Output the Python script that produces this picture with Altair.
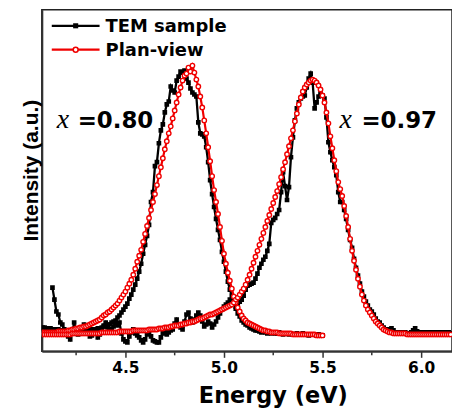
import altair as alt
import numpy as np
import pandas as pd

# ---- data (intensity in arbitrary units) ----
STEP = 0.01

TEM_080_START = 4.08
TEM_080 = [24, 24, 23, 23, 23, 22, 22, 22,
           22, 21, 21, 21, 21, 21, 20, 21, 20, 21,
           20, 21, 21, 21, 21, 22, 21, 22, 22, 22,
           23, 23, 24, 25, 25, 27, 27, 29, 30, 31,
           34, 36, 39, 42, 45, 48, 53, 57, 62, 67,
           73, 80, 88, 98, 107, 116, 127, 150, 160, 186,
           190, 209, 222, 228, 240, 248, 251, 266, 262, 260,
           272, 276, 281, 280, 282, 274, 270, 264, 260, 258,
           256, 230, 219, 218, 216, 205, 190, 172, 158, 145,
           133, 122, 112, 100, 90, 80, 70, 62, 56, 49,
           43, 38, 35, 31, 29, 27, 26, 24, 23, 22,
           21, 21, 20, 19, 20, 19, 18, 19, 18, 19,
           18, 18, 19, 18, 17, 18, 18, 17, 18, 17,
           17, 18, 17, 17, 18, 17, 17, 16, 17, 17,
           17, 16, 17, 16, 16]

PLAN_080_START = 4.08
PLAN_080 = [19, 19, 19, 19, 19, 19, 19, 19,
            20, 20, 20, 20, 20, 21, 21, 22, 22, 23,
            23, 24, 24, 25, 25, 26, 27, 28, 29, 30,
            31, 32, 34, 36, 37, 39, 40, 42, 44, 46,
            48, 51, 54, 57, 60, 64, 68, 72, 77, 83,
            90, 96, 102, 110, 118, 126, 134, 142, 150, 158,
            167, 176, 185, 194, 203, 211, 219, 226, 234, 242,
            250, 258, 265, 272, 277, 279, 285, 281, 287, 280,
            273, 266, 256, 245, 232, 219, 205, 191, 176, 162,
            150, 138, 125, 111, 98, 88, 79, 71, 63, 55,
            49, 44, 40, 36, 33, 31, 29, 28, 27, 26,
            25, 24, 23, 22, 21, 21, 20, 20, 19, 19,
            19, 19, 18, 18, 18, 18, 18, 18, 18, 17,
            17, 17, 17, 17, 17, 17, 17, 17, 17, 17,
            17, 16, 16, 16, 16]

TEM_097_START = 4.13
TEM_097 = [64, 52, 40,
           37, 29, 27, 22, 19, 15, 12, 18, 29, 20,
           17, 19, 24, 27, 22, 18, 15, 16, 21, 19,
           14, 17, 22, 26, 29, 24, 20, 22, 25, 29,
           26, 29, 18, 12, 10, 9, 15, 19, 22, 18,
           16, 14, 11, 9, 12, 17, 20, 15, 11, 10,
           9, 9, 14, 18, 20, 17, 19, 21, 22, 28,
           32, 27, 24, 22, 30, 37, 39, 33, 29, 32,
           36, 39, 36, 30, 25, 27, 30, 28, 24, 27,
           30, 34, 38, 42, 45, 47, 49, 52, 50, 47,
           45, 48, 50, 52, 56, 62, 66, 67, 68, 69,
           73, 78, 84, 88, 92, 95, 101, 108, 129, 132,
           134, 138, 142, 160, 180, 166, 152, 165, 195, 215,
           232, 244, 250, 254, 256, 257, 265, 274, 279, 270,
           244, 250, 256, 260, 257, 254, 235, 210, 200, 192,
           185, 177, 160, 150, 150, 142, 133, 122, 112, 104,
           93, 84, 76, 68, 60, 55, 50, 46, 42, 40,
           37, 33, 30, 29, 26, 24, 22, 21, 22, 23,
           21, 19, 19, 18, 19, 18, 19, 18, 18, 19,
           21, 23, 20, 19, 18, 19, 18, 19, 18, 19,
           19, 18, 19, 18, 19, 19, 18, 19, 19, 18]

PLAN_097_START = 4.08
PLAN_097 = [17, 17, 17, 17, 17, 17, 17, 17,
            17, 17, 17, 17, 17, 17, 17, 18, 18, 18,
            18, 18, 18, 18, 18, 18, 18, 18, 18, 18,
            18, 18, 19, 19, 19, 19, 19, 19, 19, 19,
            19, 20, 20, 20, 20, 20, 20, 20, 21, 21,
            21, 21, 21, 21, 21, 21, 22, 22, 22, 22,
            22, 23, 23, 23, 24, 24, 24, 25, 25, 26,
            26, 26, 27, 27, 28, 28, 29, 29, 30, 30,
            31, 32, 33, 33, 34, 35, 36, 37, 37, 38,
            39, 40, 41, 42, 43, 44, 45, 46, 47, 49,
            52, 54, 57, 60, 63, 67, 72, 77, 83, 89,
            95, 101, 107, 113, 119, 125, 131, 137, 143, 149,
            155, 161, 168, 175, 183, 190, 198, 206, 214, 222,
            231, 239, 248, 255, 261, 265, 268, 270, 272, 273,
            272, 270, 267, 263, 257, 250, 240, 229, 216, 204,
            192, 181, 170, 163, 156, 146, 136, 125, 113, 101,
            91, 82, 73, 65, 57, 51, 46, 42, 39, 36,
            33, 30, 28, 26, 24, 22, 21, 20, 19, 19,
            18, 18, 18, 18, 18, 18, 18, 17, 17, 17,
            17, 17, 17, 17, 17, 17, 17, 17, 17, 17,
            17, 17, 17, 17, 17, 17, 17, 17, 17, 17]

X_TICKS = [4.5, 5.0, 5.5, 6.0]
X_MINOR = [4.25, 4.75, 5.25, 5.75]
LEGEND_LABELS = ["TEM sample", "Plan-view"]
ANNOT = [("=0.80", 36, 15), ("=0.97", 321, 299)]

BLACK = "#000000"
RED = "#f00000"


def frame(start, vals, group):
    e = np.round(start + STEP * np.arange(len(vals)), 2)
    return pd.DataFrame({"E": e, "I": vals, "group": group})


tem = pd.concat([frame(TEM_080_START, TEM_080, "a"),
                 frame(TEM_097_START, TEM_097, "b")])
plan = pd.concat([frame(PLAN_080_START, PLAN_080, "a"),
                  frame(PLAN_097_START, PLAN_097, "b")])

xs = alt.Scale(domain=[4.076, 6.157], nice=False, zero=False)
ys = alt.Scale(domain=[0, 343], nice=False, zero=False)

x_axis = alt.Axis(values=X_TICKS, format=".1f", grid=False,
                  labelFont="DejaVu Sans", labelFontWeight="bold", labelFontSize=15.5,
                  labelColor="black", labelPadding=3,
                  tickSize=6, tickWidth=1.5, tickColor="#333",
                  domainColor="#333", domainWidth=2,
                  title="Energy (eV)", titleFont="DejaVu Sans", titleFontWeight="bold",
                  titleFontSize=22.5, titleColor="black", titleX=232, titleY=51,
                  titleBaseline="alphabetic", titleAlign="center")
y_axis = alt.Axis(ticks=False, labels=False, grid=False,
                  domainColor="#333", domainWidth=2,
                  title="Intensity (a.u.)", titleFont="Liberation Sans", titleFontWeight="bold",
                  titleFontSize=21, titleColor="black", titleX=-4, titleY=161,
                  titleBaseline="alphabetic", titleAlign="center", titleAngle=270)

enc_x = alt.X("E:Q", scale=xs, axis=x_axis)
enc_y = alt.Y("I:Q", scale=ys, axis=y_axis)

tem_line = alt.Chart(tem).mark_line(color=BLACK, strokeWidth=2.3, clip=True).encode(
    x=enc_x, y=enc_y, detail="group:N")
tem_pts = alt.Chart(tem).mark_point(shape="square", filled=True, color=BLACK, size=22,
                                    opacity=1, clip=True).encode(
    x=alt.X("E:Q", scale=xs), y=alt.Y("I:Q", scale=ys))
plan_line = alt.Chart(plan).mark_line(color=RED, strokeWidth=2.2, clip=True).encode(
    x=alt.X("E:Q", scale=xs), y=alt.Y("I:Q", scale=ys), detail="group:N")
plan_pts = alt.Chart(plan).mark_point(shape="circle", filled=False, fill="white", fillOpacity=1,
                                      stroke=RED, strokeWidth=1.4, size=20, opacity=1,
                                      clip=True).encode(
    x=alt.X("E:Q", scale=xs), y=alt.Y("I:Q", scale=ys))

minor = alt.Chart(pd.DataFrame({"E": X_MINOR})).mark_rule(
    color="#333", strokeWidth=1.5).encode(
    x=alt.X("E:Q", scale=xs), y=alt.value(344), y2=alt.value(347))

# legend
leg_layers = []
for i, (lab, col) in enumerate(zip(LEGEND_LABELS, [BLACK, RED])):
    yy = 16 + 24 * i
    d = pd.DataFrame({"label": [lab]})
    leg_layers.append(alt.Chart(d).mark_rule(color=col, strokeWidth=2.2).encode(
        x=alt.value(10), x2=alt.value(58), y=alt.value(yy)))
    if i == 0:
        leg_layers.append(alt.Chart(d).mark_point(shape="square", filled=True, color=col,
                                                  size=26, opacity=1).encode(
            x=alt.value(34), y=alt.value(yy)))
    else:
        leg_layers.append(alt.Chart(d).mark_point(shape="circle", filled=False, fill="white",
                                                  fillOpacity=1, stroke=col, strokeWidth=1.5,
                                                  size=24, opacity=1).encode(
            x=alt.value(34), y=alt.value(yy)))
    leg_layers.append(alt.Chart(d).mark_text(font="DejaVu Sans", fontWeight="bold", fontSize=18,
                                             align="left", baseline="alphabetic",
                                             color="black").encode(
        x=alt.value(64), y=alt.value(yy + 6), text="label:N"))

ann_layers = []
for txt, xt, xv in ANNOT:
    d = pd.DataFrame({"t": [txt], "v": ["x"]})
    ann_layers.append(alt.Chart(d).mark_text(font="Liberation Serif", fontStyle="italic",
                                             fontSize=28, align="left", baseline="alphabetic",
                                             color="black").encode(
        x=alt.value(xv), y=alt.value(119), text="v:N"))
    ann_layers.append(alt.Chart(d).mark_text(font="DejaVu Sans", fontWeight="bold",
                                             fontSize=23, align="left", baseline="alphabetic",
                                             color="black").encode(
        x=alt.value(xt), y=alt.value(119), text="t:N"))

chart = alt.layer(tem_line, tem_pts, plan_line, plan_pts, minor,
                  *leg_layers, *ann_layers).properties(
    width=412, height=343,
    autosize=alt.AutoSizeParams(type="none"),
    padding={"left": 42, "top": 9, "right": 0, "bottom": 60},
    background="white",
).configure_view(stroke="#222", strokeWidth=1.5)

chart.save("out.html", embed_options={"renderer": "svg", "actions": False})
